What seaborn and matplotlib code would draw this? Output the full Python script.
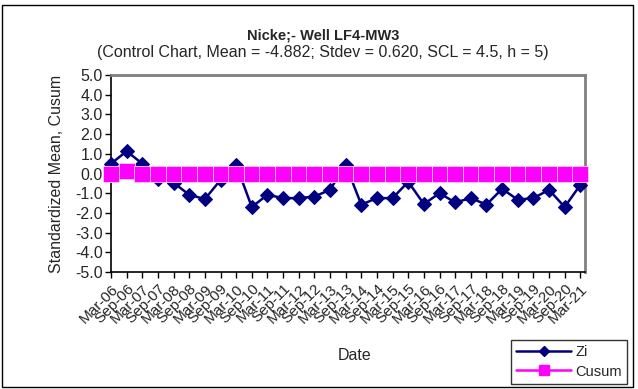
import pandas as pd
import matplotlib.pyplot as plt
import seaborn as sns
from matplotlib.patches import Rectangle
from matplotlib.lines import Line2D

# data
dates = ['Mar-06', 'Sep-06', 'Mar-07', 'Sep-07', 'Mar-08', 'Sep-08', 'Mar-09', 'Sep-09',
         'Mar-10', 'Sep-10', 'Mar-11', 'Sep-11', 'Mar-12', 'Sep-12', 'Mar-13', 'Sep-13',
         'Mar-14', 'Sep-14', 'Mar-15', 'Sep-15', 'Mar-16', 'Sep-16', 'Mar-17', 'Sep-17',
         'Mar-18', 'Sep-18', 'Mar-19', 'Sep-19', 'Mar-20', 'Sep-20', 'Mar-21']
zi = [0.50, 1.13, 0.50, -0.30, -0.47, -1.08, -1.30, -0.33, 0.45, -1.70,
      -1.08, -1.25, -1.25, -1.17, -0.83, 0.45, -1.58, -1.25, -1.25, -0.42,
      -1.55, -1.00, -1.47, -1.25, -1.58, -0.78, -1.33, -1.25, -0.83, -1.70, -0.58]
cusum = [0.0, 0.13, 0.0, 0.0, 0.0, 0.0, 0.0, 0.0, 0.0, 0.0,
         0.0, 0.0, 0.0, 0.0, 0.0, 0.0, 0.0, 0.0, 0.0, 0.0,
         0.0, 0.0, 0.0, 0.0, 0.0, 0.0, 0.0, 0.0, 0.0, 0.0, 0.0]

df = pd.DataFrame({'pos': range(len(dates)), 'Date': dates, 'Zi': zi, 'Cusum': cusum})

sns.set_theme(style="white")
plt.rcParams['font.family'] = ['Liberation Sans', 'DejaVu Sans']
plt.rcParams['axes.unicode_minus'] = False

navy = '#000080'
magenta = '#FF00FF'

fig = plt.figure(figsize=(6.38, 3.89), dpi=100)
ax = fig.add_axes([111 / 638, 1 - 272 / 389, (585 - 111) / 638, (272 - 75) / 389])

sns.lineplot(data=df, x='pos', y='Zi', ax=ax, color=navy, marker='D', markersize=7.5,
             markeredgecolor=navy, linewidth=1.8, zorder=3, clip_on=False)
sns.lineplot(data=df, x='pos', y='Cusum', ax=ax, color=magenta, marker='s', markersize=11,
             markeredgecolor='#FFD0FF', markeredgewidth=0.6, linewidth=1.8, zorder=4,
             clip_on=False)

ax.set_xlim(0, 30.3)
ax.set_ylim(-5, 5)
ax.set_yticks([-5, -4, -3, -2, -1, 0, 1, 2, 3, 4, 5])
ax.set_yticklabels([f'{v:.1f}' for v in range(-5, 6)], fontsize=11.5)
ax.set_xticks(df['pos'])
ax.set_xticklabels(dates, rotation=45, ha='right', rotation_mode='anchor', fontsize=11)
ax.tick_params(axis='both', which='major', direction='out', length=4, width=1,
               color='black', pad=2, bottom=True, left=True)
ax.tick_params(axis='x', pad=3)

for side in ['left', 'bottom']:
    ax.spines[side].set_color('black')
    ax.spines[side].set_linewidth(1.2)
for side in ['top', 'right']:
    ax.spines[side].set_color('#808080')
    ax.spines[side].set_linewidth(2)

ax.set_xlabel('')
ax.set_ylabel('Standardized Mean, Cusum', fontsize=11.5, labelpad=8)
fig.text(355 / 638, 1 - 355 / 389, 'Date', ha='center', va='center', fontsize=11.5)

fig.text(323 / 638, 1 - 35 / 389, 'Nicke;- Well LF4-MW3', ha='center', va='center',
         fontsize=10.5, fontweight='bold')
fig.text(323 / 638, 1 - 52 / 389,
         '(Control Chart, Mean = -4.882; Stdev = 0.620, SCL = 4.5, h = 5)',
         ha='center', va='center', fontsize=11.5)

handles = [Line2D([], [], color=navy, marker='D', markersize=5, linewidth=1.8),
           Line2D([], [], color=magenta, marker='s', markersize=6.5, linewidth=1.8)]
fig.legend(handles, ['Zi', 'Cusum'], loc='center', bbox_to_anchor=(569 / 638, 1 - 362 / 389),
           frameon=True, fancybox=False, edgecolor='black', fontsize=10.5,
           handlelength=3.8, handletextpad=0.3, borderpad=0.35, labelspacing=0.35)

fig.patches.append(Rectangle((2 / 638, 2 / 389), 631 / 638, 382 / 389, transform=fig.transFigure,
                             fill=False, edgecolor='black', linewidth=1))

fig.savefig('out.png', dpi=100)
